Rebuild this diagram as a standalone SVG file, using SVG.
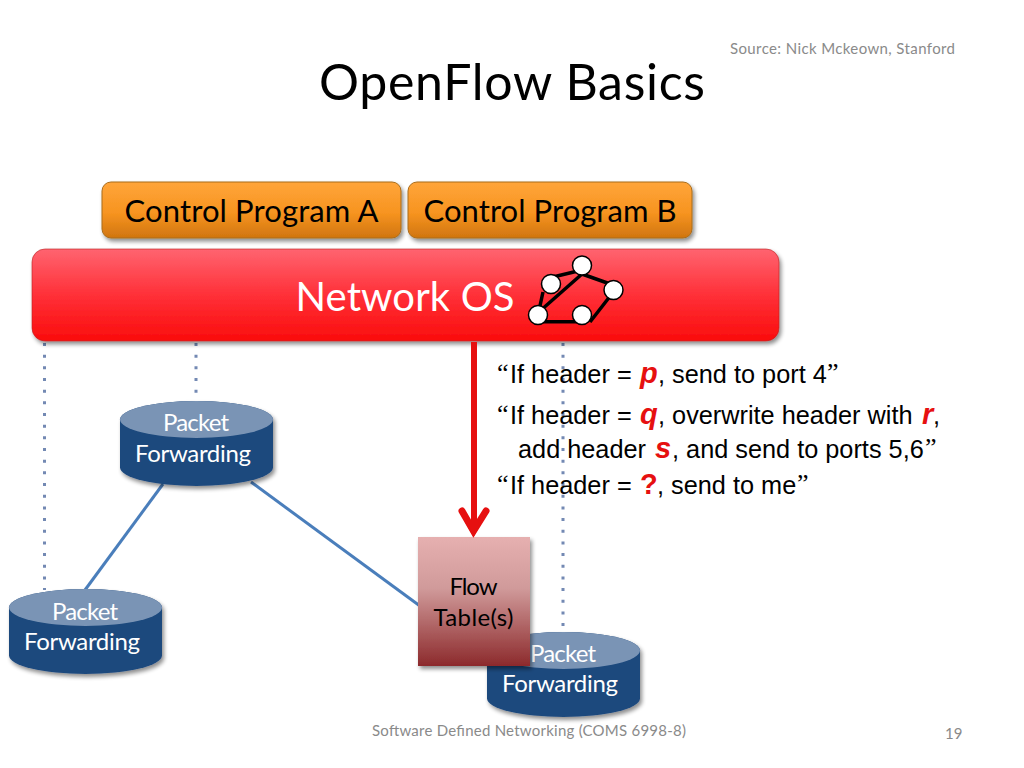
<svg xmlns="http://www.w3.org/2000/svg" width="1024" height="768" viewBox="0 0 1024 768">
<style>
.c{font-family:"Lato","Open Sans","Noto Sans",sans-serif}
.m{text-anchor:middle}
.pf{font-size:24px;fill:#fff;text-anchor:middle}
.a{font-family:"Liberation Sans",Arial,sans-serif;font-size:25.3px;fill:#000}
.q{font-family:"Liberation Serif",serif;font-size:26px}
.k{font-weight:bold;font-style:italic;fill:#e61010;font-size:29px}
.u{font-weight:bold;fill:#e61010;font-size:29px}
.dot{fill:none;stroke:#5b74a6;stroke-width:3;stroke-dasharray:3 8.67;stroke-opacity:.85}
.ln{fill:none;stroke:#4a7ebb;stroke-width:3}
.e{stroke:#000;stroke-width:3.500;fill:none}
.n{fill:#fff;stroke:#000;stroke-width:1.500}
</style>
<defs>
<linearGradient id="org" x1="0" y1="0" x2="0" y2="1"><stop offset="0" stop-color="#ffa53a"/><stop offset="0.55" stop-color="#f79420"/><stop offset="1" stop-color="#d0750f"/></linearGradient>
<linearGradient id="red" x1="0" y1="0" x2="0" y2="1"><stop offset="0" stop-color="#ff6470"/><stop offset="0.5" stop-color="#ff3038"/><stop offset="1" stop-color="#fa0c0c"/></linearGradient>
<linearGradient id="flow" x1="0" y1="0" x2="0" y2="1"><stop offset="0" stop-color="#e6b0b0"/><stop offset="0.4" stop-color="#d09a9a"/><stop offset="1" stop-color="#8c2a2c"/></linearGradient>
<filter id="sh" x="-10%" y="-10%" width="120%" height="125%"><feGaussianBlur in="SourceAlpha" stdDeviation="2"/><feOffset dx="2" dy="3"/><feComponentTransfer><feFuncA type="linear" slope="0.45"/></feComponentTransfer><feMerge><feMergeNode/><feMergeNode in="SourceGraphic"/></feMerge></filter>
<g id="cyl"><path d="M0 18.500A76.500 18.500 0 0 1 153 18.500V66.500A76.500 18.500 0 0 1 0 66.500Z" fill="#1f497d" filter="url(#sh)"/><ellipse cx="76.500" cy="18.500" rx="76.500" ry="18.500" fill="#7a94b5"/></g>
</defs>
<rect width="1024" height="768" fill="#fff"/>
<g id="connectors">
<path class="dot" d="M44.500 343V590"/>
<path class="dot" d="M196 343V402"/>
<path class="dot" d="M563 343V632"/>
<path class="ln" d="M163 484L85 590"/>
<path class="ln" d="M251 482L420 606"/>
</g>
<text class="c m" x="512" y="100" font-size="50" textLength="386">OpenFlow Basics</text>
<text class="c" x="730" y="53.500" font-size="15" fill="#8a8a8a" textLength="225">Source: Nick Mckeown, Stanford</text>
<g id="control-a"><rect x="102" y="182" width="299" height="56" rx="9" fill="url(#org)" stroke="#a96c1c" filter="url(#sh)"/><text class="c m" x="251.500" y="222" font-size="31" textLength="254">Control Program A</text></g>
<g id="control-b"><rect x="408" y="182" width="284" height="56" rx="9" fill="url(#org)" stroke="#a96c1c" filter="url(#sh)"/><text class="c m" x="550" y="222" font-size="31" textLength="253">Control Program B</text></g>
<g id="network-os"><rect x="32" y="249" width="747" height="92" rx="13" fill="url(#red)" stroke="#b22" stroke-opacity="0.6" filter="url(#sh)"/><text class="c m" x="405" y="311" font-size="40" fill="#fff" textLength="219">Network OS</text>
<g><path class="e" d="M551 277.500L582 270M543 292L538 315M582 274L540 311M582 274L613 285M590 322L611 295M538 321.700H582"/>
<circle class="n" cx="582" cy="265.500" r="9.500"/><circle class="n" cx="551" cy="284" r="9.500"/><circle class="n" cx="613.500" cy="290" r="9.500"/><circle class="n" cx="538" cy="315" r="9.500"/><circle class="n" cx="582" cy="315" r="9.500"/></g></g>
<g id="pf-1"><use href="#cyl" x="120" y="401"/><text class="c pf" x="196" y="431" textLength="66">Packet</text><text class="c pf" x="193" y="462" textLength="116">Forwarding</text></g>
<g id="pf-2"><use href="#cyl" x="9" y="589"/><text class="c pf" x="85" y="620" textLength="66">Packet</text><text class="c pf" x="82" y="650" textLength="116">Forwarding</text></g>
<g id="pf-3"><use href="#cyl" x="487" y="632"/><text class="c pf" x="563" y="662" textLength="66">Packet</text><text class="c pf" x="560" y="692" textLength="116">Forwarding</text></g>
<g id="flow-table"><rect x="418" y="537" width="112" height="129" fill="url(#flow)" filter="url(#sh)"/><text class="c m" x="473.500" y="595" font-size="24" textLength="48">Flow</text><text class="c m" x="473.500" y="626" font-size="24" textLength="80">Table(s)</text></g>
<g id="arrow"><path d="M474 342V530" fill="none" stroke="#e61010" stroke-width="6"/><path d="M462 511L473.500 531L486 511" fill="none" stroke="#e61010" stroke-width="7" stroke-linecap="round"/><path d="M465 522H482L473.500 537Z" fill="#e61010"/></g>
<g id="rules">
<text class="a" y="383"><tspan class="q" x="497" y="381">“</tspan><tspan x="510" y="383">If header = </tspan><tspan class="k" x="640">p</tspan><tspan x="658">, send to port 4</tspan><tspan class="q" x="827" y="381">”</tspan></text>
<text class="a" y="424"><tspan class="q" x="497" y="422">“</tspan><tspan x="510" y="424">If header = </tspan><tspan class="k" x="640">q</tspan><tspan x="658">, overwrite header with </tspan><tspan class="k" x="922">r</tspan><tspan x="933">,</tspan></text>
<text class="a" y="458"><tspan x="518">add header </tspan><tspan class="k" x="655">s</tspan><tspan x="672">, and send to ports 5,6</tspan><tspan class="q" x="925" y="456">”</tspan></text>
<text class="a" y="494"><tspan class="q" x="497" y="492">“</tspan><tspan x="510" y="494">If header = </tspan><tspan class="u" x="640">?</tspan><tspan x="657">, send to me</tspan><tspan class="q" x="797" y="492">”</tspan></text>
</g>
<text class="c" x="372" y="736" font-size="15" fill="#8a8a8a" textLength="314">Software Defined Networking (COMS 6998-8)</text>
<text class="c" x="945" y="739" font-size="15" fill="#8a8a8a">19</text>
</svg>
